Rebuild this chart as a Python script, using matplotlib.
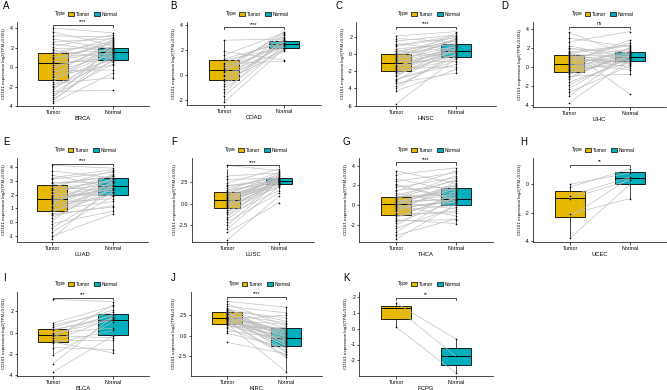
import matplotlib.pyplot as plt
from matplotlib.patches import Patch

plt.rcParams['font.family'] = ['Liberation Sans', 'DejaVu Sans']
plt.rcParams['axes.unicode_minus'] = False

W, H = 667, 390
TUMOR_COL = "#E7B800"
NORMAL_COL = "#00AFBB"
LINE_COL = "#BDBDBD"
YLABEL = "CD161 expression log2(TPM+0.001)"

# ---- data ----
# box stats: [whislo, q1, median, q3, whishi]
brca_tumor = [4.0, 3.6, 3.2, 2.9, 2.6, 2.4, 2.1, 1.9, 1.7, 1.5, 1.4, 1.2, 1.0, 0.8, 0.6, 0.5, 0.4, 0.2, 0.0, -0.2,
              -0.4, -0.5, -0.7, -0.9, -1.0, -1.2, -1.3, -1.5, -1.7, -1.9, -2.1, -2.3, -2.5, -2.7, -2.9, -3.1, -3.3,
              -3.5, -3.7, 0.9]
brca_normal = [3.5, 2.2, 3.1, 1.8, 2.9, 1.5, 3.3, 2.0, 0.9, 2.6, 1.7, 3.0, 1.4, 2.4, 0.5, 1.9, 2.8, 1.1, 1.6, 2.1,
               -0.3, 1.3, 2.7, 0.2, 1.8, 0.8, 1.5, 2.3, -1.1, 1.0, 0.6, 1.7, -2.4, 1.2, 0.3, 2.0, 0.7, 1.4, -0.6, 2.5]
brca_tumor_box = [-3.7, -1.3, 0.45, 1.45, 4.0]
brca_normal_box = [-1.1, 0.75, 1.5, 2.0, 3.5]

coad_tumor = [2.8, 1.9, 1.6, 1.3, 1.2, 1.0, 0.9, 0.7, 0.5, 0.4, 0.3, 0.2, 0.0, -0.1, -0.3, -0.4, -0.5, -0.7, -0.9,
              -1.1, -1.4, -1.7, -2.2, 0.6]
coad_normal = [2.9, 1.2, 3.4, 2.6, 2.2, 2.8, 1.1, 3.1, 2.5, 2.4, 3.5, 2.7, 2.3, 2.0, 3.2, 2.5, 1.9, 2.6, 2.8, 2.2,
               3.0, 2.4, 2.1, 3.3]
coad_tumor_box = [-2.2, -0.4, 0.4, 1.2, 2.8]
coad_normal_box = [1.9, 2.2, 2.5, 2.75, 3.5]

hnsc_tumor = [2.1, 1.8, 1.5, 1.2, 0.9, 0.6, 0.4, 0.1, 0.0, -0.2, -0.4, -0.6, -0.8, -0.9, -1.0, -1.1, -1.3, -1.5,
              -1.7, -1.9, -2.0, -2.2, -2.4, -2.6, -2.9, -3.1, -3.4, -3.7, -4.0, -4.3, -5.8, -0.5, -1.4, 0.3, -2.1,
              -0.7, 1.0, -1.6, -3.0, -0.1]
hnsc_normal = [2.6, 1.4, 2.2, 0.5, 1.9, 1.1, -0.4, 2.0, 0.8, 1.3, 0.2, 1.6, -0.9, 0.6, 0.3, 1.8, -0.2, 0.9, -1.5,
               0.4, 1.2, -0.6, 0.0, 1.0, -1.2, 0.7, -2.2, -0.3, 0.1, -1.8, -0.5, 2.4, 0.5, 1.5, -0.1, 0.9, 2.1, 0.2,
               -0.8, 1.7]
hnsc_tumor_box = [-4.3, -2.0, -1.0, 0.0, 2.1]
hnsc_normal_box = [-2.2, -0.3, 0.3, 1.2, 2.6]

lihc_tumor = [3.6, 3.0, 2.6, 2.2, 1.9, 1.7, 1.5, 1.3, 1.2, 1.0, 0.8, 0.7, 0.5, 0.4, 0.3, 0.2, 0.1, -0.1, -0.2, -0.4,
              -0.5, -0.6, -0.8, -1.0, -1.3, -1.6, -1.9, -2.3, -2.7, -3.1, -3.8, 0.6, -0.3, 1.1, 0.0, 2.0, -0.7, 0.9,
              -1.1, 1.4]
lihc_normal = [1.2, 2.1, 3.7, 0.9, 1.5, -2.9, 2.3, 1.0, 0.4, 1.8, 1.3, 0.7, 2.8, 1.1, -0.3, 1.6, 0.8, 1.4, 0.2, 2.0,
               0.6, 1.0, 1.2, -0.8, 1.7, 0.5, 0.9, 1.3, 0.1, 1.5, 0.7, 2.5, 1.0, -0.1, 1.9, 0.6, 1.1, 0.3, 1.4, 2.2]
lihc_tumor_box = [-3.1, -0.6, 0.25, 1.2, 3.6]
lihc_normal_box = [-0.8, 0.6, 1.05, 1.55, 2.8]

luad_tumor = [4.1, 3.7, 3.4, 3.1, 2.9, 2.7, 2.6, 2.4, 2.3, 2.1, 2.0, 1.9, 1.8, 1.7, 1.6, 1.5, 1.4, 1.3, 1.2, 1.1,
              1.0, 0.9, 0.8, 0.7, 0.5, 0.3, 0.1, -0.1, -0.4, -0.7, -1.0, -1.2, 2.5, 1.75, 2.2, 0.85, 3.2, 1.45, 0.6,
              2.8]
luad_normal = [3.9, 3.2, 2.5, 3.6, 2.9, 3.3, 2.2, 3.0, 2.7, 1.9, 3.4, 2.6, 2.1, 3.1, 2.4, 2.8, 1.7, 3.5, 2.3, 2.0,
               3.2, 1.5, 2.6, 2.9, 1.2, 2.5, 3.0, 0.8, 2.2, 1.9, 0.6, 2.7, 3.7, 2.4, 3.1, 2.0, 3.8, 2.6, 1.1, 3.3]
luad_tumor_box = [-1.2, 0.8, 1.7, 2.7, 4.1]
luad_normal_box = [0.6, 2.0, 2.6, 3.2, 3.9]

lusc_tumor = [4.4, 3.2, 2.8, 2.4, 2.1, 1.8, 1.6, 1.4, 1.2, 1.0, 0.8, 0.6, 0.5, 0.4, 0.3, 0.1, -0.1, -0.3, -0.5,
              -0.7, -0.9, -1.2, -1.5, -1.8, -2.1, -2.5, -2.9, -3.3, -4.2, 0.7, 0.2, 1.5, -0.4, 2.0, 0.9, -1.0, 0.0,
              1.1, -0.2, 0.45]
lusc_normal = [3.8, 3.5, 2.9, 4.0, 2.6, 3.2, 2.4, 2.8, 3.0, 2.7, 2.3, 3.1, 2.5, 2.9, 2.2, 2.7, 3.3, 1.9, 2.6, 2.8,
               2.4, 1.5, 3.0, 2.5, 1.2, 2.6, 2.0, 0.1, 0.9, 2.8, 2.5, 3.6, 2.4, 3.0, 2.7, 2.1, 2.6, 3.4, 2.3, 2.9]
lusc_tumor_box = [-2.9, -0.45, 0.4, 1.4, 4.0]
lusc_normal_box = [1.5, 2.3, 2.6, 3.0, 4.0]

thca_tumor = [3.5, 3.1, 2.7, 2.4, 2.1, 1.8, 1.5, 1.2, 1.0, 0.85, 0.7, 0.5, 0.4, 0.3, 0.2, 0.1, 0.0, -0.1, -0.3,
              -0.4, -0.6, -0.8, -1.0, -1.1, -1.3, -1.5, -1.8, -2.1, -2.4, -2.8, -3.1, -3.5, 0.6, -0.5, 0.15, -0.9,
              1.4, -0.2, 0.8, -1.6, 0.05, 2.0]
thca_normal = [2.2, 3.8, 1.4, 3.3, 0.6, 2.8, 1.9, 0.2, 2.5, 1.0, 3.0, 0.5, 1.6, -0.4, 2.1, 0.8, 1.2, -1.1, 0.3, 1.7,
               0.0, 2.4, 0.7, -0.6, 1.1, -1.9, 0.4, 1.5, -0.2, 0.9, -1.4, 0.1, 2.6, 0.65, 1.8, -0.8, 3.5, 0.35, 1.3,
               -1.5, 2.0, 0.55]
thca_tumor_box = [-3.5, -1.0, 0.1, 0.85, 3.5]
thca_normal_box = [-1.9, 0.0, 0.65, 1.7, 3.8]

ucec_tumor = [0.0, -0.2, -0.8, -1.0, -2.1, -2.3, -3.8]
ucec_normal = [0.8, 1.1, 0.5, 0.3, -1.0, 0.45, 0.0]
ucec_tumor_box = [-3.8, -2.3, -0.95, -0.5, 0.0]
ucec_normal_box = [-1.0, 0.05, 0.45, 0.85, 1.1]

blca_tumor = [3.1, 0.9, 0.7, 0.5, 0.3, 0.2, 0.0, -0.1, -0.2, -0.3, -0.5, -0.7, -0.8, -0.9, -1.0, -1.4, -2.1, -2.9,
              -3.7]
blca_normal = [2.9, 2.5, 1.9, 2.1, 1.3, 1.6, 0.4, 1.2, 1.7, -0.5, 2.6, -0.7, 1.4, -1.9, 0.2, -1.6, 1.0, 1.5, -0.3]
blca_tumor_box = [-2.1, -0.9, -0.2, 0.3, 0.9]
blca_normal_box = [-1.9, -0.2, 1.2, 1.7, 2.9]

kirc_tumor = [4.2, 3.9, 3.6, 3.4, 3.2, 3.0, 2.9, 2.8, 2.7, 2.6, 2.5, 2.4, 2.3, 2.2, 2.1, 2.0, 1.9, 1.8, 1.7, 1.6,
              1.5, 1.4, 1.3, 1.1, 0.9, 0.6, 0.3, -0.8, 2.25, 2.65, 1.95, 3.1, 1.45, 2.35, 2.05, 2.75, 1.75, 3.3,
              2.15, 1.55]
kirc_normal = [3.5, 1.2, 2.8, -0.5, 0.9, 2.2, -1.3, 0.4, -0.2, 1.6, -2.0, 0.1, -0.9, 0.7, -1.6, 2.5, -0.4, -2.4,
               0.3, -1.1, -4.4, 0.0, -0.7, 1.0, -1.8, -0.3, -1.4, -2.2, 0.6, -0.1, 1.4, -1.0, 0.8, -0.6, -1.2, 0.2,
               -2.6, 1.8, -0.8, 0.5]
kirc_tumor_box = [0.3, 1.4, 2.2, 2.9, 4.2]
kirc_normal_box = [-4.4, -1.29, -0.24, 0.96, 3.5]

pcpg_tumor = [1.6, 1.3, 0.1]
pcpg_normal = [-0.65, -1.75, -2.8]
pcpg_tumor_box = [0.1, 0.6, 1.3, 1.45, 1.65]
pcpg_normal_box = [-2.8, -2.3, -1.75, -1.25, -0.65]

# ---- layout in pixels ----
# letter, cancer, data, sig, yticks, tick labels, (spine_x, tumor_x, normal_x), (top, bottom), ylim, bracket_y, letter pos
panels = [
    ("A", "BRCA", brca_tumor, brca_normal, brca_tumor_box, brca_normal_box, "****",
     [-4, -2, 0, 2, 4], None, (17, 53, 113), (22, 106), (-4.0, 4.62), 4.3, (3, 6)),
    ("B", "COAD", coad_tumor, coad_normal, coad_tumor_box, coad_normal_box, "****",
     [-2, 0, 2, 4], None, (187, 224, 284), (22, 105), (-2.42, 4.27), 3.84, (170, 6)),
    ("C", "HNSC", hnsc_tumor, hnsc_normal, hnsc_tumor_box, hnsc_normal_box, "****",
     [-6, -4, -2, 0, 2], None, (356, 396, 456), (22, 106), (-6.05, 3.72), 3.16, (336, 6)),
    ("D", "LIHC", lihc_tumor, lihc_normal, lihc_tumor_box, lihc_normal_box, "ns",
     [-4, -2, 0, 2, 4], None, (533, 569, 630), (22, 107), (-4.24, 4.7), 4.2, (501, 6)),
    ("E", "LUAD", luad_tumor, luad_normal, luad_tumor_box, luad_normal_box, "****",
     [-1, 0, 1, 2, 3, 4], None, (17, 52, 113), (158, 242), (-1.42, 4.63), 4.23, (3, 142)),
    ("F", "LUSC", lusc_tumor, lusc_normal, lusc_tumor_box, lusc_normal_box, "****",
     [-2.5, 0.0, 2.5], ["-2.5", "0.0", "2.5"], (192, 227, 279), (158, 242), (-4.4, 5.25), 4.42, (171, 142)),
    ("G", "THCA", thca_tumor, thca_normal, thca_tumor_box, thca_normal_box, "****",
     [-2, 0, 2, 4], None, (359, 396, 456), (158, 242), (-3.78, 4.8), 4.35, (343, 142)),
    ("H", "UCEC", ucec_tumor, ucec_normal, ucec_tumor_box, ucec_normal_box, "**",
     [-4, -2, 0], None, (533, 570, 630), (158, 242), (-4.06, 1.85), 1.36, (520, 142)),
    ("I", "BLCA", blca_tumor, blca_normal, blca_tumor_box, blca_normal_box, "***",
     [-4, -2, 0, 2], None, (17, 53, 113), (292, 376), (-4.07, 3.8), 3.23, (3, 278)),
    ("J", "KIRC", kirc_tumor, kirc_normal, kirc_tumor_box, kirc_normal_box, "****",
     [-2.5, 0.0, 2.5], ["-2.5", "0.0", "2.5"], (191, 227, 286), (292, 376), (-4.9, 5.34), 4.72, (171, 278)),
    ("K", "PCPG", pcpg_tumor, pcpg_normal, pcpg_tumor_box, pcpg_normal_box, "**",
     [-2, -1, 0, 1, 2], None, (359, 396, 456), (292, 376), (-2.98, 2.3), 1.94, (343, 278)),
]


def box_stats(b):
    return {"whislo": b[0], "q1": b[1], "med": b[2], "q3": b[3], "whishi": b[4], "fliers": []}


fig = plt.figure(figsize=(W / 100, H / 100), dpi=100)

for (letter, name, tum, nor, tbox, nbox, sig, yt, ytl, xs, tb, ylim, by, lxy) in panels:
    spine_x, t_x, n_x = xs
    u = n_x - t_x
    off = (t_x - spine_x) / u
    right = n_x + (t_x - spine_x)
    top, bot = tb
    ax = fig.add_axes([spine_x / W, 1 - bot / H, (right - spine_x) / W, (bot - top) / H])

    bp = ax.bxp([box_stats(tbox), box_stats(nbox)], positions=[1, 2], widths=0.5, patch_artist=True,
                showcaps=False, showfliers=False,
                boxprops=dict(linewidth=0.6, edgecolor="black"),
                medianprops=dict(color="black", linewidth=0.7),
                whiskerprops=dict(color="black", linewidth=0.5))
    for patch, col in zip(bp["boxes"], [TUMOR_COL, NORMAL_COL]):
        patch.set_facecolor(col)
    for b in bp["boxes"] + bp["medians"] + bp["whiskers"]:
        b.set_zorder(1)

    # paired lines + points
    for t, n in zip(tum, nor):
        ax.plot([1, 2], [t, n], color=LINE_COL, lw=0.45, zorder=3)
    ax.scatter([1] * len(tum), tum, s=1.4, color="black", zorder=4, linewidths=0)
    ax.scatter([2] * len(nor), nor, s=1.4, color="black", zorder=4, linewidths=0)

    ax.set_xlim(1 - off, 2 + off)
    ax.set_ylim(*ylim)
    ax.set_xticks([1, 2])
    ax.set_xticklabels(["Tumor", "Normal"], fontsize=3.8)
    ax.set_yticks(yt)
    if ytl:
        ax.set_yticklabels(ytl)
    ax.tick_params(axis="y", labelsize=3.8)
    ax.tick_params(length=1.8, width=0.5, pad=1.0)
    ax.set_xlabel(name, fontsize=4.2, labelpad=0.8)
    ax.set_ylabel(YLABEL, fontsize=3.2, labelpad=1.5)
    for s in ["top", "right"]:
        ax.spines[s].set_visible(False)
    for s in ["left", "bottom"]:
        ax.spines[s].set_linewidth(0.5)

    # significance bracket
    drop = (ylim[1] - ylim[0]) * 0.025
    ax.plot([1, 1, 2, 2], [by - drop, by, by, by - drop], color="black", lw=0.5, clip_on=False, zorder=5)
    ax.text(1.5, by + drop * 0.3, sig, ha="center", va="bottom", fontsize=3.5, clip_on=False)

    # legend above panel: "Type" title then two keys
    cx = (spine_x + right) / 2
    ly = 1 - (top - 8) / H
    fig.text((cx - 17) / W, ly, "Type", fontsize=3.5, ha="right", va="center")
    handles = [Patch(facecolor=TUMOR_COL, edgecolor="black", linewidth=0.5, label="Tumor"),
               Patch(facecolor=NORMAL_COL, edgecolor="black", linewidth=0.5, label="Normal")]
    fig.legend(handles=handles, loc="center left", bbox_to_anchor=((cx - 15) / W, ly), ncol=2, frameon=False,
               fontsize=3.5, handlelength=1.2, handleheight=1.0, handletextpad=0.4, columnspacing=0.8,
               borderpad=0, borderaxespad=0)

    fig.text(lxy[0] / W, 1 - lxy[1] / H, letter, fontsize=7, ha="left", va="center")

fig.savefig("out.png", dpi=100)
